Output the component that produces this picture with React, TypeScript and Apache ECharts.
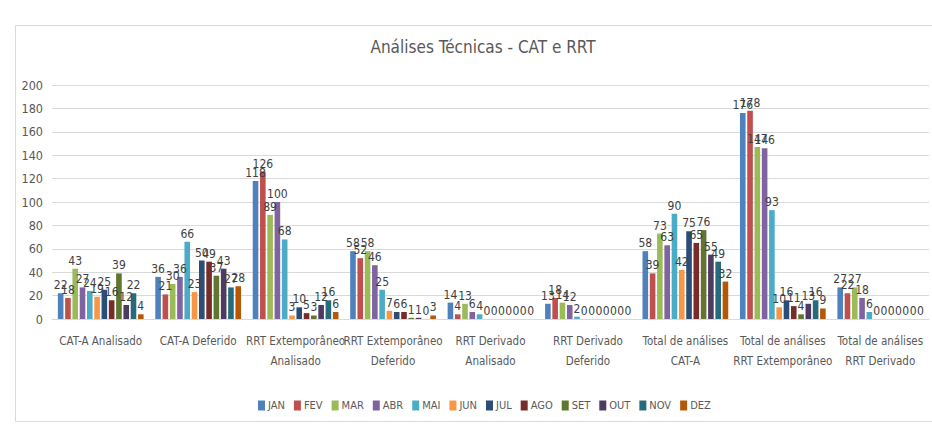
import React, { useEffect, useRef } from "react";
import * as echarts from "echarts";

const categories = [
  "CAT-A Analisado",
  "CAT-A Deferido",
  "RRT Extemporâneo\nAnalisado",
  "RRT Extemporâneo\nDeferido",
  "RRT Derivado\nAnalisado",
  "RRT Derivado\nDeferido",
  "Total de análises\nCAT-A",
  "Total de análises\nRRT Extemporâneo",
  "Total de análises\nRRT Derivado",
];

const months = ["JAN", "FEV", "MAR", "ABR", "MAI", "JUN", "JUL", "AGO", "SET", "OUT", "NOV", "DEZ"];

const JAN = [22, 36, 118, 58, 14, 13, 58, 176, 27];
const FEV = [18, 21, 126, 52, 4, 18, 39, 178, 22];
const MAR = [43, 30, 89, 58, 13, 14, 73, 147, 27];
const ABR = [27, 36, 100, 46, 6, 12, 63, 146, 18];
const MAI = [24, 66, 68, 25, 4, 2, 90, 93, 6];
const JUN = [19, 23, 3, 7, 0, 0, 42, 10, 0];
const JUL = [25, 50, 10, 6, 0, 0, 75, 16, 0];
const AGO = [16, 49, 5, 6, 0, 0, 65, 11, 0];
const SET = [39, 37, 3, 1, 0, 0, 76, 4, 0];
const OUT = [12, 43, 12, 1, 0, 0, 55, 13, 0];
const NOV = [22, 27, 16, 0, 0, 0, 49, 16, 0];
const DEZ = [4, 28, 6, 3, 0, 0, 32, 9, 0];

const seriesValues = [JAN, FEV, MAR, ABR, MAI, JUN, JUL, AGO, SET, OUT, NOV, DEZ];

const colors = [
  "#4F81BD", "#C0504D", "#9BBB59", "#8064A2", "#4BACC6", "#F79646",
  "#2C4D75", "#772C2A", "#5F7530", "#4D3B62", "#276A7C", "#B65708",
];

const FONT = "'Liberation Sans Narrow', 'DejaVu Sans Condensed', 'Roboto Condensed', sans-serif";

export default function App() {
  const ref = useRef<HTMLDivElement>(null);
  useEffect(() => {
    document.body.style.margin = "0";
    if (!ref.current) return;
    const chart = echarts.init(ref.current, undefined, { renderer: "svg" });
    chart.setOption({
      animation: false,
      backgroundColor: "#ffffff",
      color: colors,
      title: {
        text: "Análises Técnicas - CAT e RRT",
        left: 478,
        top: 33,
        textAlign: "center",
        textStyle: { fontFamily: FONT, fontSize: 17, fontWeight: "normal", color: "#595959" },
      },
      graphic: [
        {
          type: "rect",
          shape: { x: 15.5, y: 25.5, width: 940, height: 396 },
          style: { fill: "none", stroke: "#d9d9d9", lineWidth: 1 },
          silent: true,
        },
      ],
      legend: {
        left: 253,
        top: 395,
        itemWidth: 7,
        itemHeight: 10,
        itemGap: 9,
        icon: "rect",
        textStyle: { fontFamily: FONT, fontSize: 11, color: "#595959", padding: [0, 0, 0, -2] },
        data: months,
      },
      grid: { left: 52, right: 3, top: 85, bottom: 105, containLabel: false },
      xAxis: {
        type: "category",
        data: categories,
        axisLine: { lineStyle: { color: "#d9d9d9" } },
        axisTick: { show: false },
        axisLabel: {
          fontFamily: FONT,
          fontSize: 11.5,
          color: "#595959",
          interval: 0,
          lineHeight: 20,
          margin: 12,
        },
      },
      yAxis: {
        type: "value",
        min: 0,
        max: 200,
        interval: 20,
        axisLine: { show: false },
        axisTick: { show: false },
        splitLine: { lineStyle: { color: "#d9d9d9" } },
        axisLabel: { fontFamily: FONT, fontSize: 12.5, color: "#595959", margin: 9 },
      },
      series: months.map((m, i) => ({
        name: m,
        type: "bar",
        data: seriesValues[i],
        barCategoryGap: "12%",
        barGap: "30%",
        label: {
          show: true,
          position: "top",
          distance: 2,
          fontFamily: FONT,
          fontSize: 12,
          color: "#404040",
        },
      })),
    });
    return () => chart.dispose();
  }, []);
  return <div ref={ref} style={{ width: 932, height: 424 }} />;
}
